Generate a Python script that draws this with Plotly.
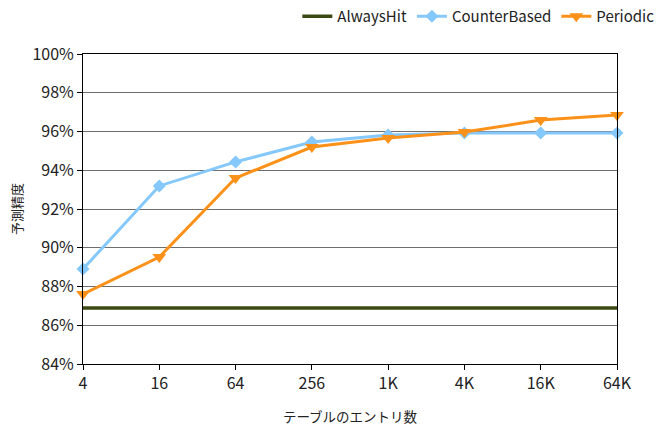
import plotly.graph_objects as go

entries = ["4", "16", "64", "256", "1K", "4K", "16K", "64K"]
always_hit = [86.89] * 8
counter_based = [88.90, 93.19, 94.43, 95.46, 95.82, 95.92, 95.92, 95.92]
periodic = [87.61, 89.52, 93.60, 95.20, 95.66, 95.97, 96.59, 96.85]

y_ticks = [84, 86, 88, 90, 92, 94, 96, 98, 100]
y_labels = [f"{v}%" for v in y_ticks]

font = "Noto Sans CJK JP"
fig = go.Figure()
fig.add_trace(go.Scatter(x=entries, y=always_hit, name="AlwaysHit", mode="lines",
                         line=dict(color="#3b4a12", width=3.5), cliponaxis=False))
fig.add_trace(go.Scatter(x=entries, y=counter_based, name="CounterBased", mode="lines+markers",
                         line=dict(color="#85c8fb", width=3),
                         marker=dict(symbol="diamond", size=10, color="#85c8fb"), cliponaxis=False))
fig.add_trace(go.Scatter(x=entries, y=periodic, name="Periodic", mode="lines+markers",
                         line=dict(color="#fb9118", width=3),
                         marker=dict(symbol="triangle-down", size=12, color="#fb9118"), cliponaxis=False))

fig.update_layout(
    width=666, height=428,
    margin=dict(l=83, r=49, t=54, b=64, autoexpand=False),
    paper_bgcolor="white", plot_bgcolor="white",
    font=dict(family=font, size=15, color="#222"),
    legend=dict(orientation="h", x=0.99, xanchor="right", xref="container",
                y=1.0, yanchor="top", yref="container", font=dict(size=15),
                traceorder="normal", tracegroupgap=0),
    showlegend=True,
)
fig.update_xaxes(
    type="category", range=[0, 7], showgrid=False, automargin=False,
    showline=True, linecolor="black", linewidth=1, mirror=True,
    ticks="outside", ticklen=5, tickcolor="black", tickfont=dict(size=16),
    title=dict(text="テーブルのエントリ数", font=dict(size=13.5), standoff=19),
)
fig.update_yaxes(
    range=[84, 100], tickvals=y_ticks, ticktext=y_labels, automargin=False,
    showgrid=True, gridcolor="#6e6e6e", gridwidth=1,
    showline=True, linecolor="black", linewidth=1, mirror=True,
    ticks="outside", ticklen=5, tickcolor="black", zeroline=False, tickfont=dict(size=16),
    title=dict(text="予測精度", font=dict(size=13), standoff=6),
)

fig.write_html("out.html")
